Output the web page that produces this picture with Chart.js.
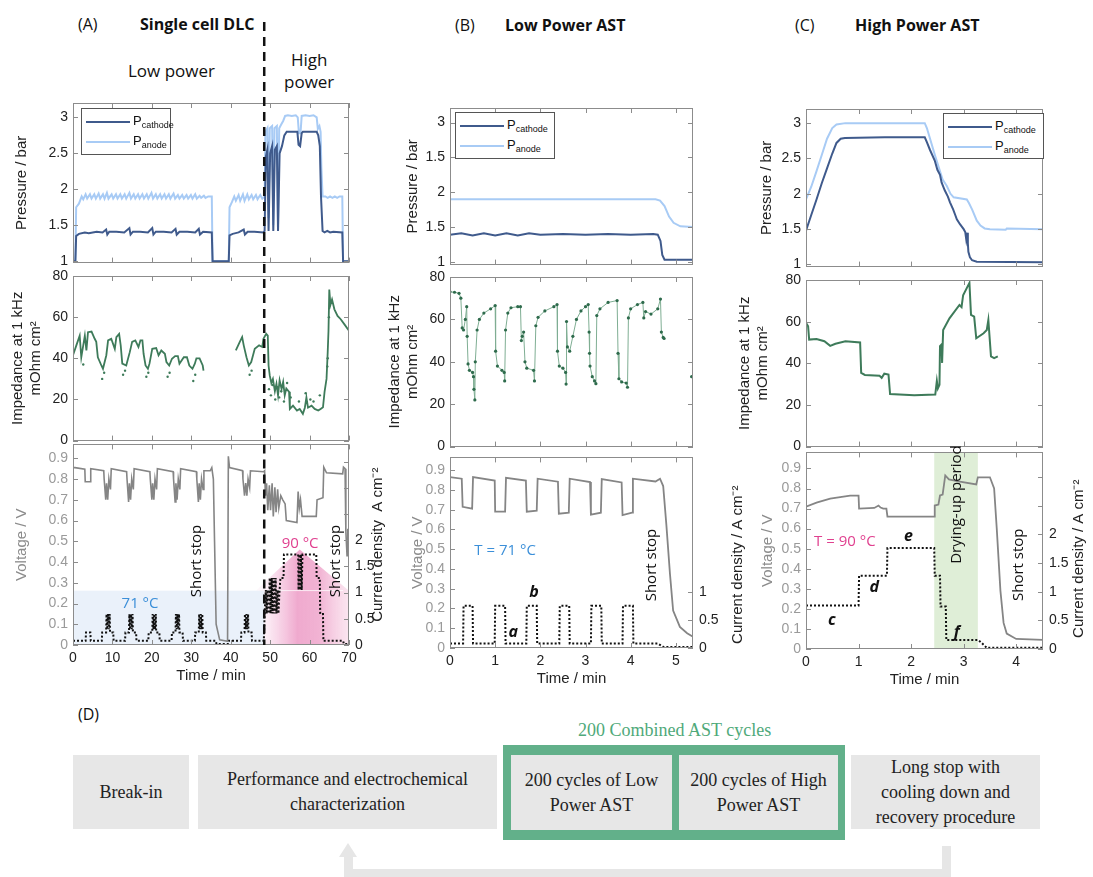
<!DOCTYPE html>
<html>
<head>
<meta charset="utf-8">
<script src="https://cdn.jsdelivr.net/npm/chart.js@4.4.0/dist/chart.umd.min.js"></script>
<style>
  body { margin: 0; background: #fff; }
  #fig { position: relative; width: 1093px; height: 877px; overflow: hidden; font-family: "Open Sans", sans-serif; }
  #fig canvas { position: absolute; }
  .t { position: absolute; white-space: nowrap; color: #111; font-size: 16px; line-height: 20px; }
  .b { font-weight: 700; }
  .lg { position: absolute; z-index: 3; background: #fff; border: 1px solid #555; box-sizing: border-box;
        font-family: "Liberation Sans", Arial, sans-serif; font-size: 13px; padding: 2px 4px; color: #111; }
  .lg .row { height: 20px; line-height: 20px; white-space: nowrap; }
  .lg .ln { display: inline-block; width: 44px; height: 2px; margin-right: 3px; vertical-align: middle; }
  .lg sub { font-size: 9px; vertical-align: -3px; line-height: 0; }
  .box { position: absolute; background: #e7e7e7; display: flex; align-items: center; justify-content: center;
         text-align: center; font-family: "Liberation Serif", serif; font-size: 18px; color: #222; line-height: 25px; }
  .bar { position: absolute; background: #e6e6e6; }
</style>
</head>
<body>
<div id="fig">
  <div class="t" style="left:78px;top:14px">(A)</div>
  <div class="t b" style="left:140px;top:14px">Single cell DLC</div>
  <div class="t" style="left:455px;top:15px">(B)</div>
  <div class="t b" style="left:505px;top:15px">Low Power AST</div>
  <div class="t" style="left:795px;top:15px">(C)</div>
  <div class="t b" style="left:855px;top:15px">High Power AST</div>
  <div class="t" style="left:128px;top:61px;font-size:17px">Low power</div>
  <div class="t" style="left:284px;top:49px;font-size:17px;text-align:center;line-height:22px">High<br>power</div>

  <div class="lg" style="left:81px;top:108px;width:90px;height:47px">
    <div class="row"><span class="ln" style="background:#3f5a8c"></span><span>P<sub>cathode</sub></span></div>
    <div class="row"><span class="ln" style="background:#a8cbf5"></span><span>P<sub>anode</sub></span></div>
  </div>
  <div class="lg" style="left:455px;top:112px;width:100px;height:47px">
    <div class="row"><span class="ln" style="background:#3f5a8c"></span><span>P<sub>cathode</sub></span></div>
    <div class="row"><span class="ln" style="background:#a8cbf5"></span><span>P<sub>anode</sub></span></div>
  </div>
  <div class="lg" style="left:943px;top:113px;width:101px;height:46px">
    <div class="row"><span class="ln" style="background:#3f5a8c"></span><span>P<sub>cathode</sub></span></div>
    <div class="row"><span class="ln" style="background:#a8cbf5"></span><span>P<sub>anode</sub></span></div>
  </div>

  <div class="t" style="left:78px;top:704px">(D)</div>
  <div class="t" style="left:578px;top:720px;font-family:'Liberation Serif',serif;font-size:18px;color:#4fa97a">200 Combined AST cycles</div>
  <div class="box" style="left:73px;top:755px;width:116px;height:74px">Break-in</div>
  <div class="box" style="left:198px;top:755px;width:299px;height:74px">Performance and electrochemical<br>characterization</div>
  <div class="box" style="left:503px;top:745px;width:342px;height:95px;background:#62b08a"></div>
  <div class="box" style="left:511px;top:755px;width:161px;height:75px">200 cycles of Low<br>Power AST</div>
  <div class="box" style="left:679px;top:755px;width:159px;height:75px">200 cycles of High<br>Power AST</div>
  <div class="box" style="left:851px;top:755px;width:189px;height:74px">Long stop with<br>cooling down and<br>recovery procedure</div>
  <div class="bar" style="left:942px;top:846px;width:9px;height:31px"></div>
  <div class="bar" style="left:344px;top:869px;width:607px;height:8px"></div>
  <div class="bar" style="left:344px;top:856px;width:9px;height:21px"></div>
  <div style="position:absolute;left:339px;top:843px;width:0;height:0;border-left:9px solid transparent;border-right:9px solid transparent;border-bottom:14px solid #e6e6e6"></div>
</div>

<script>
// ---------- axes ----------
const timeTicksA = [0, 10, 20, 30, 40, 50, 60, 70];
const timeTicksB = [0, 1, 2, 3, 4, 5];
const timeTicksC = [0, 1, 2, 3, 4];
const pressTicks = [1, 1.5, 2, 2.5, 3];
const pressLabels = ['1', '1.5', '2', '2.5', '3'];
const pressLabelsB = ['1', '1.5', '2', '1.5', '3'];   // as printed in the original figure
const impTicks = [0, 20, 40, 60, 80];
const voltTicks = [0, 0.1, 0.2, 0.3, 0.4, 0.5, 0.6, 0.7, 0.8, 0.9];
const currTicksA = [0, 0.5, 1, 1.5, 2, 2.5, 3, 3.5];
const currLabelsA = ['0', '0.5', '1', '1.5', '2', '', '', ''];
const currTicksB = [0, 0.5, 1];
const currTicksC = [0, 0.5, 1, 1.5, 2, 2.5, 3];
const currLabelsC = ['0', '0.5', '1', '1.5', '2', '', ''];

// ---------- (A) single cell DLC : [time min, value] ----------
const pCathA = [[0,1.0],[0.6,1.0],[0.8,1.35],[1.5,1.38],[3,1.4],[4,1.39],[6,1.41],[7.5,1.4],[8.4,1.44],[8.7,1.37],[9.2,1.41],[11,1.41],[13,1.4],[14.3,1.46],[14.6,1.37],[15.2,1.41],[17,1.41],[19,1.4],[20.1,1.46],[20.4,1.37],[21,1.41],[23,1.41],[25,1.4],[26.0,1.45],[26.3,1.37],[27,1.41],[29,1.41],[31,1.4],[31.9,1.45],[32.2,1.37],[33,1.41],[35.2,1.4],[35.4,1.0],[39.5,1.0],[39.7,1.36],[40.5,1.38],[42,1.4],[43.3,1.44],[43.6,1.37],[44.3,1.41],[46,1.41],[48.3,1.4],[48.6,1.42],[48.9,2.45],[49.3,2.55],[49.6,1.42],[50.0,2.5],[50.5,2.6],[50.8,1.42],[51.2,2.55],[51.7,2.6],[52.0,1.42],[52.4,2.5],[53.0,2.6],[53.6,2.75],[54.2,2.8],[56.9,2.8],[57.2,2.62],[57.6,2.6],[58.0,2.78],[58.3,2.8],[61.8,2.8],[62.2,2.75],[62.6,2.6],[62.9,1.9],[63.3,1.42],[63.8,1.4],[64.5,1.42],[65.2,1.4],[66,1.41],[68.3,1.4],[68.5,1.0],[70,1.0]];
const pAnA = [[0,1.0],[0.6,1.0],[0.8,1.75],[1.5,1.8],[2.2,1.9],[2.6,1.86],[3.2,1.93],[3.6,1.87],[4.3,1.93],[4.7,1.87],[5.4,1.93],[5.8,1.87],[6.5,1.94],[6.9,1.87],[7.6,1.93],[8.0,1.87],[8.6,1.95],[9.0,1.87],[9.8,1.93],[10.2,1.87],[10.9,1.93],[11.3,1.87],[12.0,1.93],[12.4,1.87],[13.1,1.93],[13.5,1.87],[14.3,1.95],[14.7,1.87],[15.4,1.93],[15.8,1.87],[16.5,1.93],[16.9,1.87],[17.6,1.93],[18.0,1.87],[18.7,1.93],[19.1,1.87],[19.9,1.95],[20.3,1.87],[21.0,1.93],[21.4,1.87],[22.1,1.93],[22.5,1.87],[23.2,1.93],[23.6,1.87],[24.3,1.93],[24.7,1.87],[25.5,1.94],[25.9,1.87],[26.6,1.92],[27.0,1.87],[27.7,1.92],[28.1,1.87],[28.8,1.92],[29.2,1.87],[29.9,1.92],[30.3,1.87],[31.0,1.93],[31.4,1.87],[32.1,1.91],[32.5,1.88],[33.2,1.91],[33.6,1.88],[34.3,1.9],[35.2,1.9],[35.4,1.0],[39.5,1.0],[39.7,1.75],[40.3,1.82],[40.9,1.9],[41.3,1.84],[42.0,1.92],[42.4,1.84],[43.1,1.93],[43.5,1.84],[44.2,1.93],[44.6,1.86],[45.3,1.92],[45.7,1.86],[46.4,1.92],[46.8,1.86],[47.5,1.92],[48.0,1.87],[48.6,1.9],[48.8,2.8],[49.3,2.85],[49.6,1.6],[49.9,2.85],[50.5,2.88],[50.8,1.5],[51.1,2.85],[51.7,2.88],[52.0,1.5],[52.3,2.85],[52.8,2.9],[53.3,2.95],[53.8,3.02],[54.5,3.03],[55.5,3.02],[56.5,3.03],[57.0,3.0],[57.3,2.78],[57.7,2.78],[58.0,3.02],[59,3.03],[60,3.02],[61,3.03],[61.8,3.0],[62.1,2.84],[62.5,2.88],[62.8,2.8],[63.0,2.3],[63.3,1.9],[64.0,1.9],[64.6,1.88],[65.2,1.9],[65.8,1.88],[66.4,1.9],[67.0,1.88],[67.6,1.9],[68.3,1.9],[68.5,1.0],[70,1.0]];
const impA = [[0,41.5],[0.85,46.3],[1.7,51],[2.1,40.5],[3.0,51],[3.4,43.8],[3.8,52.7],[4.7,53],[5.5,49.5],[5.9,48],[6.3,40.5],[7.2,36.5],[7.6,34.9],[8.45,41.5],[8.9,48.7],[9.7,49.5],[10.6,44.6],[11.0,50.3],[11.7,51.9],[12.1,46.3],[12.5,37.4],[13.5,36.5],[14.4,43],[15.0,48],[15.8,48.7],[16.6,45.5],[17.1,48.7],[17.6,48.7],[17.9,42.2],[18.4,36.5],[19.0,34.9],[19.4,37.4],[20.1,44.6],[21.1,45],[21.7,41.5],[22.4,43.8],[23.3,42.2],[23.7,38.2],[24.4,36.5],[25.1,39.8],[25.9,41.1],[26.6,41.1],[27.0,37.4],[28.1,40.5],[28.9,40.5],[29.5,36.5],[30.3,34.9],[30.9,37.4],[31.3,40],[32.1,40],[32.9,36.5],[33.1,34],[33.2,null],[41.3,43.8],[42.3,48],[42.9,50.3],[43.3,46.3],[44.0,40.5],[44.6,36.5],[45.2,38.2],[46.1,44.6],[47.2,46.3],[48.0,45.5],[48.3,49.5],[49.0,51.9],[49.4,51],[49.6,36.5],[49.9,31.7],[50.3,28],[50.7,30],[51.2,24],[51.6,27.6],[52.0,22],[52.4,29.3],[52.9,25],[53.3,28.5],[53.7,22],[54.1,25.3],[54.8,23.7],[55.0,15.4],[55.8,17],[56.8,14.6],[57.5,15.4],[58.3,13],[58.8,16],[59.2,21],[59.6,16],[60.5,17],[61.3,15.4],[62.2,14.6],[62.8,15.4],[63.4,16.2],[63.8,23.7],[64.3,30],[64.6,43],[64.8,53.4],[65.0,73.4],[65.3,66],[65.7,68.6],[66.3,63.8],[67.1,60.6],[67.9,59],[68.8,56.6],[70,53.4]];
const impDotsA = [[2.6,37],[7.4,30],[7.9,33],[12.7,32],[13.2,34],[18.6,31],[19.1,33],[24.0,31],[24.5,33],[30.5,29],[31.0,32],[44.8,32],[45.3,34],[49.7,25],[50.2,22],[50.6,27],[51.3,20],[51.8,26],[52.3,21],[52.8,24],[53.5,19],[54.3,28],[55.2,21],[57.3,19],[59.0,23],[60.2,20],[61.0,19],[62.6,22],[64.5,36],[64.6,40],[64.9,60]];
const voltA = [[0,0.855],[0.5,0.855],[3.0,0.848],[3.1,0.787],[4.4,0.787],[4.5,0.85],[7.8,0.84],[7.9,0.8],[8.3,0.7],[8.5,0.78],[8.8,0.7],[9.1,0.8],[9.5,0.75],[9.7,0.85],[13.6,0.835],[13.7,0.8],[14.1,0.69],[14.3,0.78],[14.6,0.7],[14.9,0.8],[15.3,0.75],[15.5,0.85],[19.5,0.835],[19.6,0.8],[20.0,0.7],[20.2,0.78],[20.5,0.7],[20.8,0.8],[21.2,0.75],[21.4,0.85],[25.4,0.835],[25.5,0.8],[25.9,0.69],[26.1,0.78],[26.4,0.7],[26.7,0.8],[27.1,0.75],[27.3,0.85],[31.3,0.835],[31.4,0.8],[31.8,0.69],[32.0,0.78],[32.3,0.7],[32.6,0.8],[33.0,0.75],[33.2,0.84],[34.8,0.84],[35.2,0.855],[35.6,0.8],[35.9,0.5],[36.3,0.1],[37.2,0.025],[39.2,0.018],[39.4,0.91],[39.7,0.855],[43.0,0.84],[43.1,0.8],[43.5,0.72],[43.8,0.78],[44.1,0.72],[44.4,0.8],[44.8,0.76],[45.0,0.84],[48.3,0.835],[48.6,0.84],[48.8,0.72],[49.1,0.78],[49.4,0.65],[49.8,0.77],[50.1,0.65],[50.5,0.78],[50.8,0.62],[51.2,0.76],[51.5,0.64],[51.9,0.75],[52.2,0.66],[52.7,0.72],[53.2,0.7],[53.8,0.68],[54.1,0.6],[56.8,0.59],[57.1,0.74],[57.4,0.66],[57.7,0.7],[58.1,0.62],[61.7,0.62],[61.9,0.7],[63.4,0.71],[63.6,0.857],[64.3,0.83],[68.4,0.825],[68.6,0.857],[69.0,0.85],[69.2,0.55],[69.5,0.43],[69.7,0.56],[70,0.5]];
const currA = [[0,0.08],[3.2,0.08],[3.3,0.24],[4.4,0.24],[4.5,0.08],[7.3,0.08],[7.4,0.24],[8.4,0.24],[8.5,0.59],[8.7,0.3],[8.9,0.59],[9.1,0.3],[9.3,0.59],[9.4,0.24],[10.2,0.24],[10.3,0.08],[13.2,0.08],[13.3,0.24],[14.2,0.24],[14.3,0.59],[14.5,0.3],[14.7,0.59],[14.9,0.3],[15.1,0.59],[15.2,0.24],[16.0,0.24],[16.1,0.08],[19.1,0.08],[19.2,0.24],[20.1,0.24],[20.2,0.59],[20.4,0.3],[20.6,0.59],[20.8,0.3],[21.0,0.59],[21.1,0.24],[21.9,0.24],[22.0,0.08],[25.0,0.08],[25.1,0.24],[26.0,0.24],[26.1,0.59],[26.3,0.3],[26.5,0.59],[26.7,0.3],[26.9,0.59],[27.0,0.24],[27.8,0.24],[27.9,0.08],[30.9,0.08],[31.0,0.24],[31.9,0.24],[32.0,0.59],[32.2,0.3],[32.4,0.59],[32.6,0.3],[32.8,0.59],[32.9,0.24],[33.7,0.24],[33.8,0.08],[36.2,0.08],[36.4,0.02],[39.3,0.02],[39.4,0.08],[42.6,0.08],[42.7,0.24],[43.5,0.24],[43.6,0.59],[43.8,0.3],[44.0,0.59],[44.2,0.3],[44.4,0.59],[44.5,0.24],[45.3,0.24],[45.4,0.08],[48.4,0.08],[48.6,0.6],[48.9,1.05],[49.1,0.6],[49.4,1.05],[49.6,0.6],[49.9,1.28],[50.1,0.6],[50.4,1.28],[50.6,0.6],[50.9,1.28],[51.1,0.6],[51.4,1.28],[51.6,0.6],[51.9,1.05],[52.1,0.6],[52.4,1.05],[52.6,1.28],[53.4,1.28],[53.5,1.73],[57.1,1.73],[57.2,1.05],[57.4,1.73],[57.6,1.05],[57.8,1.73],[58.0,1.05],[58.2,1.73],[61.7,1.73],[61.8,1.28],[62.6,1.28],[62.7,0.59],[63.4,0.59],[63.5,0.08],[68.5,0.08],[68.7,0.02],[70,0.02]];

// ---------- (B) low power AST ----------
const pCathB = [[0,1.39],[0.25,1.41],[0.5,1.38],[0.75,1.41],[1.0,1.38],[1.25,1.41],[1.5,1.38],[1.75,1.41],[2.0,1.39],[2.5,1.4],[3.0,1.39],[3.5,1.4],[4.0,1.39],[4.5,1.4],[4.6,1.39],[4.66,1.3],[4.7,1.1],[4.75,1.03],[5.38,1.03]];
const pAnB = [[0,1.9],[1,1.9],[2,1.9],[3,1.9],[4,1.9],[4.55,1.9],[4.65,1.88],[4.75,1.8],[4.85,1.65],[4.95,1.56],[5.1,1.51],[5.38,1.5]];
const impB = [[0,73],[0.1,72.8],[0.2,72.3],[0.24,70],[0.27,56],[0.3,55],[0.34,60],[0.37,66],[0.38,52],[0.4,39],[0.43,36],[0.5,35],[0.52,33],[0.53,27],[0.55,22],[0.56,40],[0.6,55],[0.65,60],[0.75,63],[0.9,65],[1.0,66.5],[1.01,45],[1.05,38],[1.15,36],[1.2,35],[1.21,31],[1.23,55],[1.28,63],[1.35,65.5],[1.5,66],[1.56,66],[1.58,50],[1.6,52],[1.63,54],[1.66,40],[1.7,37],[1.85,36],[1.87,31],[1.9,57],[1.95,61],[2.1,64],[2.3,66],[2.37,67],[2.38,45],[2.42,38],[2.5,37],[2.56,35],[2.57,29.5],[2.58,59],[2.6,47],[2.65,45],[2.72,52],[2.8,60],[2.9,64],[3.0,66],[3.06,67],[3.08,54],[3.09,44],[3.1,38],[3.15,33],[3.2,31],[3.23,29.7],[3.25,61.8],[3.32,65],[3.5,68],[3.7,68.9],[3.72,44],[3.74,32],[3.8,30.5],[3.9,30],[3.93,28],[3.95,60.7],[4.0,65],[4.15,67],[4.27,68],[4.29,60.7],[4.33,63.7],[4.45,62.5],[4.6,65],[4.66,69.6],[4.68,54],[4.72,51.5],[4.74,51],[5.0,null],[5.35,33]];
const voltB = [[0,0.865],[0.26,0.857],[0.28,0.715],[0.49,0.705],[0.51,0.865],[0.99,0.848],[1.0,0.69],[1.22,0.69],[1.24,0.862],[1.68,0.848],[1.7,0.69],[1.92,0.695],[1.94,0.857],[2.39,0.842],[2.41,0.68],[2.63,0.685],[2.65,0.857],[3.1,0.84],[3.12,0.675],[3.34,0.685],[3.36,0.855],[3.8,0.838],[3.82,0.673],[4.03,0.685],[4.05,0.857],[4.55,0.843],[4.65,0.857],[4.72,0.82],[4.79,0.625],[4.87,0.375],[4.94,0.19],[5.09,0.107],[5.25,0.075],[5.38,0.057]];
const currB = [[0,0.08],[0.29,0.08],[0.3,0.75],[0.5,0.75],[0.51,0.08],[0.99,0.08],[1.0,0.75],[1.22,0.75],[1.23,0.08],[1.69,0.08],[1.7,0.75],[1.92,0.75],[1.93,0.08],[2.42,0.08],[2.43,0.75],[2.64,0.75],[2.65,0.08],[3.12,0.08],[3.13,0.75],[3.35,0.75],[3.36,0.08],[3.82,0.08],[3.83,0.75],[4.05,0.75],[4.06,0.08],[4.6,0.08],[4.72,0.02],[5.38,0.02]];

// ---------- (C) high power AST ----------
const pCathC = [[0,1.48],[0.1,1.7],[0.2,1.92],[0.3,2.15],[0.4,2.36],[0.5,2.57],[0.58,2.72],[0.66,2.78],[0.74,2.79],[1.5,2.8],[2.26,2.8],[2.3,2.73],[2.36,2.62],[2.45,2.47],[2.5,2.34],[2.55,2.27],[2.58,2.16],[2.64,2.05],[2.7,1.96],[2.74,1.88],[2.8,1.78],[2.84,1.7],[2.87,1.64],[2.93,1.57],[3.0,1.5],[3.03,1.46],[3.05,1.35],[3.07,1.45],[3.08,1.3],[3.09,1.18],[3.12,1.1],[3.16,1.06],[3.25,1.04],[4.51,1.03]];
const pAnC = [[0,1.92],[0.1,2.1],[0.2,2.32],[0.3,2.55],[0.4,2.78],[0.5,2.93],[0.58,2.98],[0.75,3.0],[2.26,3.0],[2.3,2.93],[2.46,2.53],[2.6,2.2],[2.68,2.11],[2.75,2.0],[2.81,1.95],[3.06,1.92],[3.1,1.87],[3.16,1.78],[3.25,1.62],[3.32,1.55],[3.4,1.51],[3.5,1.5],[3.8,1.49],[3.82,1.51],[4.51,1.5]];
const impC = [[0,59.4],[0.04,57.8],[0.06,51.4],[0.2,51.7],[0.35,50.6],[0.46,48.4],[0.56,49.4],[0.75,50.6],[1.03,50],[1.05,35.4],[1.12,34.4],[1.4,34],[1.44,33],[1.49,35],[1.57,34.6],[1.6,25.2],[2.06,24.6],[2.46,25],[2.49,31.6],[2.51,28],[2.54,29.7],[2.55,48.2],[2.58,49],[2.59,40.2],[2.61,56],[2.73,61.6],[2.92,68],[2.96,67],[2.99,72.7],[3.11,78.6],[3.14,63.2],[3.2,62.4],[3.24,52],[3.38,54.4],[3.44,56],[3.47,60.8],[3.52,43.3],[3.58,42.5],[3.65,43.3]];
const voltC = [[0,0.709],[0.2,0.73],[0.46,0.75],[0.84,0.765],[1.0,0.765],[1.01,0.7],[1.3,0.703],[1.38,0.715],[1.42,0.705],[1.47,0.7],[1.53,0.7],[1.55,0.66],[2.44,0.66],[2.45,0.715],[2.52,0.72],[2.55,0.765],[2.6,0.77],[2.65,0.865],[2.72,0.845],[2.9,0.835],[3.24,0.82],[3.27,0.856],[3.5,0.856],[3.58,0.8],[3.63,0.6],[3.7,0.29],[3.76,0.13],[3.82,0.077],[4.0,0.05],[4.51,0.045]];
const currC = [[0,0.76],[1.0,0.76],[1.01,1.28],[1.54,1.28],[1.55,1.76],[2.44,1.76],[2.45,1.28],[2.55,1.28],[2.56,0.74],[2.66,0.74],[2.67,0.155],[3.28,0.155],[3.35,0.1],[3.44,0.02],[4.51,0.02]];

// shaded zone of panel A (data coordinates)
const hillA = [[46.3,0.262],[57.5,0.46],[70,0.262],[70,0],[48.5,0],[48.5,0.262]];

const FONT = '"Liberation Sans", Arial, sans-serif';
const NOTE = '"Open Sans", sans-serif';
const C_CATH = '#3f5a8c', C_AN = '#a8cbf5', C_IMP = '#3e7b5a', C_V = '#858585';
const deco = {};

const pts = a => a.map(([x, y]) => ({x, y}));

Chart.register({
  id: 'deco',
  beforeDatasetsDraw(chart) {
    const d = deco[chart.canvas.id];
    if (!d) return;
    const {ctx, chartArea: a, scales: {x, y}} = chart;
    ctx.save();
    ctx.beginPath(); ctx.rect(a.left, a.top, a.width, a.height); ctx.clip();
    const band = b => {
      const x0 = x.getPixelForValue(b.x0), x1 = x.getPixelForValue(b.x1);
      const y0 = b.y0 == null ? a.bottom : y.getPixelForValue(b.y0);
      const y1 = b.y1 == null ? a.top : y.getPixelForValue(b.y1);
      ctx.fillStyle = b.color;
      ctx.fillRect(x0, y1, x1 - x0, y0 - y1);
    };
    (d.bands || []).forEach(band);
    if (d.hill) {
      const g = ctx.createLinearGradient(x.getPixelForValue(46.3), 0, x.getPixelForValue(70), 0);
      g.addColorStop(0, 'rgba(230,120,185,0.02)');
      g.addColorStop(0.1, 'rgba(230,110,175,0.1)');
      g.addColorStop(0.45, 'rgba(224,85,158,0.5)');
      g.addColorStop(0.68, 'rgba(226,95,163,0.48)');
      g.addColorStop(1, 'rgba(240,165,202,0.28)');
      ctx.fillStyle = g;
      ctx.beginPath();
      d.hill.forEach(([hx, hy], i) => {
        const px = x.getPixelForValue(hx), py = y.getPixelForValue(hy);
        i ? ctx.lineTo(px, py) : ctx.moveTo(px, py);
      });
      ctx.closePath(); ctx.fill();
    }
    (d.over || []).forEach(band);
    ctx.restore();
  },
  afterDatasetsDraw(chart) {
    const d = deco[chart.canvas.id] || {};
    const {ctx, chartArea: a, scales} = chart;
    const {x, y, y2} = scales;
    ctx.save();
    // MATLAB-like box with inward ticks
    ctx.strokeStyle = '#8c8c8c'; ctx.lineWidth = 1;
    ctx.strokeRect(Math.round(a.left) + 0.5, Math.round(a.top) + 0.5, Math.round(a.width) - 1, Math.round(a.height) - 1);
    ctx.beginPath();
    x.ticks.forEach(t => {
      const p = Math.round(x.getPixelForValue(t.value)) + 0.5;
      ctx.moveTo(p, a.bottom); ctx.lineTo(p, a.bottom - 5);
      ctx.moveTo(p, a.top); ctx.lineTo(p, a.top + 5);
    });
    y.ticks.forEach(t => {
      const p = Math.round(y.getPixelForValue(t.value)) + 0.5;
      ctx.moveTo(a.left, p); ctx.lineTo(a.left + 5, p);
      if (!y2) { ctx.moveTo(a.right, p); ctx.lineTo(a.right - 5, p); }
    });
    if (y2) y2.ticks.forEach(t => {
      const p = Math.round(y2.getPixelForValue(t.value)) + 0.5;
      ctx.moveTo(a.right, p); ctx.lineTo(a.right - 5, p);
    });
    ctx.stroke();
    // dashed separator low / high power
    if (d.vline) {
      const p = x.getPixelForValue(d.vline.x);
      ctx.strokeStyle = '#111'; ctx.lineWidth = 2.5; ctx.setLineDash([9, 6]);
      ctx.beginPath(); ctx.moveTo(p, a.top - d.vline.ext); ctx.lineTo(p, a.bottom); ctx.stroke();
      ctx.setLineDash([]);
    }
    (d.notes || []).forEach(n => {
      ctx.save();
      ctx.translate(x.getPixelForValue(n.x), y.getPixelForValue(n.y));
      if (n.rot) ctx.rotate(-Math.PI / 2);
      ctx.font = n.font || ('15px ' + NOTE);
      ctx.fillStyle = n.color || '#111';
      ctx.textAlign = 'center'; ctx.textBaseline = 'middle';
      ctx.fillText(n.text, 0, 0);
      ctx.restore();
    });
    if (d.side) {
      ctx.translate(a.right + d.side.dx, (a.top + a.bottom) / 2 + (d.side.dy || 0));
      ctx.rotate(-Math.PI / 2);
      ctx.font = '15px ' + FONT; ctx.fillStyle = '#222';
      ctx.textAlign = 'center'; ctx.textBaseline = 'middle';
      ctx.fillText(d.side.text, 0, 0);
    }
    ctx.restore();
  }
});

function panel(id, o) {
  const cv = document.createElement('canvas');
  cv.id = id;
  cv.width = o.l + o.w + o.r;
  cv.height = o.t + o.h + o.b;
  cv.style.left = (o.x - o.l) + 'px';
  cv.style.top = (o.y - o.t) + 'px';
  document.getElementById('fig').appendChild(cv);
  deco[id] = o.deco || {};

  const scales = {
    x: {
      type: 'linear', min: 0, max: o.xMax,
      afterBuildTicks: s => { s.ticks = o.xTicks.map(v => ({value: v})); },
      afterFit: s => { s.height = o.b; },
      grid: {display: false, drawTicks: false}, border: {display: false},
      ticks: {display: !!o.showX, color: '#222', font: {family: FONT, size: 14}, padding: 5, maxRotation: 0,
              callback: (v, i) => String(o.xTicks[i])},
      title: {display: !!o.showX, text: 'Time / min', color: '#222', font: {family: FONT, size: 15}, padding: {top: 1}}
    },
    y: {
      type: 'linear', position: 'left', min: o.yMin, max: o.yMax,
      afterBuildTicks: s => { s.ticks = o.yTicks.map(v => ({value: v})); },
      afterFit: s => { s.width = o.l; },
      grid: {display: false, drawTicks: false}, border: {display: false},
      ticks: {color: o.yTickColor || '#222', font: {family: FONT, size: o.yTickSize || 14}, padding: 5,
              callback: (v, i) => o.yLabels[i]},
      title: {display: true, text: o.yTitle, color: o.yTitleColor || '#222', font: {family: FONT, size: 15}}
    }
  };
  if (o.y2Max) {
    scales.y2 = {
      type: 'linear', position: 'right', min: 0, max: o.y2Max,
      afterBuildTicks: s => { s.ticks = o.y2Ticks.map(v => ({value: v})); },
      afterFit: s => { s.width = o.r; },
      grid: {display: false, drawTicks: false}, border: {display: false},
      ticks: {color: '#222', font: {family: FONT, size: 14}, padding: 6, callback: (v, i) => o.y2Labels[i]}
    };
  }
  new Chart(cv, {
    type: 'line',
    data: {
      datasets: o.sets.map(s => ({
        data: pts(s.data), yAxisID: s.axis || 'y',
        borderColor: s.color, backgroundColor: s.pointColor || s.color,
        borderWidth: s.width || 2, borderDash: s.dash || [],
        showLine: s.showLine !== false, spanGaps: false,
        pointRadius: s.points || 0, pointBorderWidth: 0, pointBackgroundColor: s.pointColor || s.color,
        tension: 0, fill: false
      }))
    },
    options: {
      responsive: false, animation: false, devicePixelRatio: 1,
      layout: {padding: {top: o.t, right: o.y2Max ? 0 : o.r, bottom: 0, left: 0}},
      plugins: {legend: {display: false}, tooltip: {enabled: false}},
      scales
    }
  });
}

// ----- (A) -----
const boxA = {x: 73, w: 276, xMax: 70, xTicks: timeTicksA};
panel('pA', {...boxA, y: 103, h: 161, l: 64, r: 12, t: 83, b: 12,
  yMin: 0.98, yMax: 3.2, yTicks: pressTicks, yLabels: pressLabels, yTitle: 'Pressure / bar',
  sets: [{data: pCathA, color: C_CATH, width: 2}, {data: pAnA, color: C_AN, width: 2}],
  deco: {vline: {x: 48.5, ext: 81}}});
panel('iA', {...boxA, y: 276, h: 166, l: 68, r: 12, t: 14, b: 12,
  yMin: 0, yMax: 80, yTicks: impTicks, yLabels: impTicks.map(String), yTitle: ['Impedance at 1 kHz', 'mOhm cm²'],
  sets: [{data: impA, color: C_IMP, width: 1.8}, {data: impDotsA, color: C_IMP, showLine: false, points: 1.2}],
  deco: {vline: {x: 48.5, ext: 12}}});
panel('vA', {...boxA, y: 442, h: 203, l: 64, r: 44, t: 12, b: 44, showX: true,
  yMin: 0, yMax: 0.967, yTicks: voltTicks, yLabels: voltTicks.map(String), yTitle: 'Voltage / V',
  yTickColor: '#9a9a9a', yTitleColor: '#8c8c8c',
  y2Max: 3.83, y2Ticks: currTicksA, y2Labels: currLabelsA,
  sets: [{data: voltA, color: C_V, width: 1.6}, {data: currA, color: '#111', width: 2, dash: [2, 2], axis: 'y2'}],
  deco: {
    bands: [{x0: 0, x1: 48.5, y0: 0, y1: 0.262, color: 'rgba(214,228,246,0.5)'}],
    hill: hillA,
    over: [{x0: 48.5, x1: 68.5, y0: 0.26, y1: 0.264, color: 'rgba(255,255,255,0.9)'}],
    vline: {x: 48.5, ext: 0},
    side: {text: 'Current density  A cm⁻²', dx: 29, dy: 0},
    notes: [
      {x: 17.0, y: 0.199, text: '71 °C', color: '#3b8fd9'},
      {x: 57.6, y: 0.49, text: '90 °C', color: '#e0408f'},
      {x: 31.5, y: 0.405, text: 'Short stop', rot: true},
      {x: 66.6, y: 0.405, text: 'Short stop', rot: true}
    ]
  }});

// ----- (B) -----
const boxB = {x: 450, w: 243, xMax: 5.38, xTicks: timeTicksB};
panel('pB', {...boxB, y: 108, h: 158, l: 50, r: 12, t: 20, b: 12,
  yMin: 0.96, yMax: 3.21, yTicks: pressTicks, yLabels: pressLabelsB, yTitle: 'Pressure / bar',
  sets: [{data: pCathB, color: C_CATH, width: 2}, {data: pAnB, color: C_AN, width: 2}]});
panel('iB', {...boxB, y: 277, h: 171, l: 68, r: 12, t: 14, b: 12,
  yMin: 0, yMax: 80, yTicks: impTicks, yLabels: impTicks.map(String), yTitle: ['Impedance at 1 kHz', 'mOhm cm²'],
  sets: [{data: impB, color: '#7fae93', width: 1, points: 1.6, pointColor: '#2e6b4c'}]});
panel('vB', {...boxB, y: 455, h: 193, l: 45, r: 60, t: 12, b: 44, showX: true,
  yMin: 0, yMax: 0.965, yTicks: voltTicks, yLabels: voltTicks.map(String), yTitle: 'Voltage / V',
  yTickColor: '#9a9a9a', yTitleColor: '#8c8c8c',
  y2Max: 3.39, y2Ticks: currTicksB, y2Labels: currTicksB.map(String),
  sets: [{data: voltB, color: C_V, width: 1.8}, {data: currB, color: '#111', width: 2, dash: [2, 2], axis: 'y2'}],
  deco: {
    side: {text: 'Current density / A cm⁻²', dx: 45, dy: 12},
    notes: [
      {x: 1.22, y: 0.49, text: 'T = 71 °C', color: '#3b8fd9'},
      {x: 1.86, y: 0.28, text: 'b', font: 'italic 700 16px ' + NOTE},
      {x: 1.40, y: 0.077, text: 'a', font: 'italic 700 16px ' + NOTE},
      {x: 4.46, y: 0.42, text: 'Short stop', rot: true}
    ]
  }});

// ----- (C) -----
const boxC = {x: 806, w: 237, xMax: 4.51, xTicks: timeTicksC};
panel('pC', {...boxC, y: 109, h: 159, l: 52, r: 12, t: 20, b: 12,
  yMin: 0.97, yMax: 3.2, yTicks: pressTicks, yLabels: pressLabels, yTitle: 'Pressure / bar',
  sets: [{data: pCathC, color: C_CATH, width: 2}, {data: pAnC, color: C_AN, width: 2}]});
panel('iC', {...boxC, y: 280, h: 168, l: 74, r: 12, t: 14, b: 12,
  yMin: 0, yMax: 80, yTicks: impTicks, yLabels: impTicks.map(String), yTitle: ['Impedance at 1 kHz', 'mOhm cm²'],
  sets: [{data: impC, color: C_IMP, width: 2}]});
panel('vC', {...boxC, y: 450, h: 199, l: 51, r: 50, t: 12, b: 44, showX: true,
  yMin: 0, yMax: 0.98, yTicks: voltTicks, yLabels: voltTicks.map(String), yTitle: 'Voltage / V',
  yTickColor: '#9a9a9a', yTitleColor: '#8c8c8c',
  y2Max: 3.43, y2Ticks: currTicksC, y2Labels: currLabelsC,
  sets: [{data: voltC, color: C_V, width: 1.8}, {data: currC, color: '#111', width: 2, dash: [2, 2], axis: 'y2'}],
  deco: {
    bands: [{x0: 2.44, x1: 3.27, color: 'rgba(196,224,182,0.55)'}],
    side: {text: 'Current density / A cm⁻²', dx: 36, dy: 8},
    notes: [
      {x: 0.74, y: 0.537, text: 'T = 90 °C', color: '#e0408f'},
      {x: 0.49, y: 0.143, text: 'c', font: 'italic 700 16px ' + NOTE},
      {x: 1.30, y: 0.307, text: 'd', font: 'italic 700 16px ' + NOTE},
      {x: 1.95, y: 0.56, text: 'e', font: 'italic 700 16px ' + NOTE},
      {x: 2.87, y: 0.085, text: 'f', font: 'italic 700 16px ' + NOTE},
      {x: 2.87, y: 0.72, text: 'Drying-up period', rot: true},
      {x: 4.04, y: 0.42, text: 'Short stop', rot: true}
    ]
  }});
</script>
</body>
</html>
